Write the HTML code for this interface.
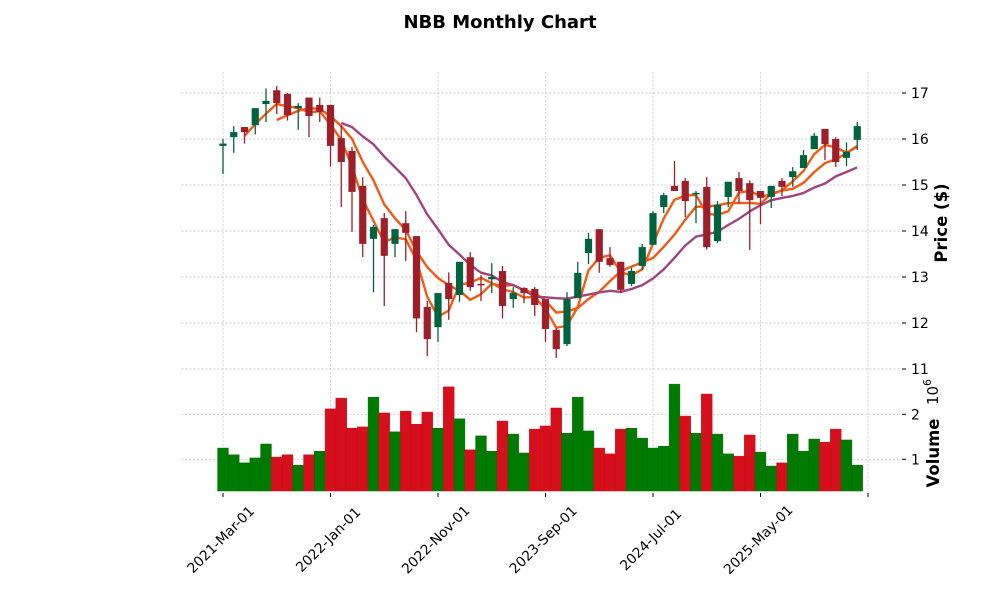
<!DOCTYPE html>
<html><head><meta charset="utf-8"><style>
body{margin:0;background:#fff;font-family:"Liberation Sans","DejaVu Sans",sans-serif;}
svg text{font-family:"DejaVu Sans","Liberation Sans",sans-serif;}
</style></head><body>
<svg id="chart" width="1000" height="600" viewBox="0 0 1000 600">
<text x="500" y="28" text-anchor="middle" font-size="18" font-weight="bold">NBB Monthly Chart</text>
<g id="grid"></g><g id="vol"></g><g id="ma"></g><g id="candles"></g><g id="axes"></g>
<text transform="translate(947,223) rotate(-90)" text-anchor="middle" font-size="16.5" font-weight="bold">Price ($)</text>
<text transform="translate(939,453) rotate(-90)" text-anchor="middle" font-size="16.5" font-weight="bold">Volume</text>
<text transform="translate(938,392) rotate(-90)" text-anchor="middle" font-size="15">10<tspan dy="-7" font-size="11">6</tspan></text>
</svg>
<script>
const opens=[15.85,16.04,16.26,16.3,16.76,17.06,16.98,16.67,16.9,16.74,16.74,16.02,15.74,14.98,13.83,14.28,13.72,14.17,13.89,12.35,11.91,12.87,12.61,13.43,12.85,12.95,13.13,12.52,12.76,12.74,12.52,11.85,11.54,12.54,13.52,14.04,13.41,13.33,12.85,13.24,13.7,14.52,14.98,15.09,14.8,14.96,13.78,14.74,15.15,15.04,14.87,14.74,15.09,15.17,15.37,15.78,16.22,16.0,15.59,15.98];
const highs=[16.0,16.28,16.26,16.67,17.1,17.15,17.0,16.78,16.9,16.9,16.74,16.3,15.83,15.17,14.13,14.39,14.04,14.43,13.89,12.48,12.65,13.1,13.33,13.54,13.04,13.3,13.24,12.78,12.78,12.78,12.52,11.89,12.67,13.33,13.96,14.04,13.65,13.33,13.2,13.72,14.43,14.83,15.52,15.15,14.87,15.17,14.65,15.07,15.28,15.1,14.87,14.98,15.15,15.39,15.76,16.13,16.22,16.04,15.93,16.37];
const lows=[15.24,15.7,15.9,16.1,16.37,16.54,16.4,16.2,16.04,16.37,15.4,14.52,13.98,13.43,12.67,12.37,13.43,13.35,11.8,11.28,11.59,12.07,12.46,12.7,12.48,12.65,12.1,12.33,12.43,12.15,11.59,11.24,11.5,12.54,13.28,13.09,13.22,12.65,12.8,13.15,13.7,14.39,14.87,14.3,14.17,13.6,13.74,14.52,14.6,13.59,14.15,14.5,14.76,14.96,15.37,15.78,15.54,15.39,15.41,15.76];
const closes=[15.9,16.15,16.15,16.67,16.83,16.78,16.52,16.72,16.5,16.59,15.85,15.5,14.85,13.72,14.09,13.46,14.04,13.96,12.1,11.65,12.65,12.52,13.33,12.78,12.83,13.0,12.37,12.65,12.65,12.39,11.87,11.43,12.52,13.09,13.83,13.33,13.26,12.72,13.13,13.65,14.39,14.78,14.87,14.65,14.83,13.65,14.57,15.07,14.87,14.67,14.72,14.98,14.96,15.3,15.65,16.07,15.89,15.5,15.72,16.28];
const volumes=[1.25,1.10,0.92,1.03,1.34,1.05,1.10,0.87,1.10,1.18,2.12,2.36,1.69,1.72,2.38,2.03,1.61,2.07,1.78,2.05,1.69,2.61,1.90,1.21,1.52,1.18,1.85,1.56,1.14,1.67,1.74,2.14,1.58,2.38,1.63,1.25,1.12,1.67,1.69,1.47,1.25,1.29,2.67,1.96,1.58,2.45,1.56,1.12,1.07,1.54,1.16,0.85,0.92,1.56,1.18,1.45,1.38,1.67,1.43,0.87];
const priceTicks=[11,12,13,14,15,16,17];
const volTicks=[1,2];
const xTickIdx=[0,10,20,30,40,50];
const xTickLabels=["2021-Mar-01","2022-Jan-01","2022-Nov-01","2023-Sep-01","2024-Jul-01","2025-May-01"];
const maPeriods=[3,6,12];
const maColors=["#f25c15","#f05a14","#a0457a"];

const NS="http://www.w3.org/2000/svg";
const X=i=>223+i*10.75;
const Y=p=>93+(17-p)*46;
const VY=v=>459.3-(v-1)*45;
const VBASE=491, L=181, R=900;
function mk(tag,attrs,parent){const e=document.createElementNS(NS,tag);for(const k in attrs)e.setAttribute(k,attrs[k]);document.getElementById(parent).appendChild(e);return e;}
const GS={stroke:'#c4c4c4','stroke-width':0.7,'stroke-dasharray':'2.5,1.5'};

priceTicks.forEach(p=>{
  const g=mk('line',Object.assign({x1:L,x2:R,y1:Y(p),y2:Y(p)},GS),'grid');
  
  
  mk('line',{x1:902,x2:906,y1:Y(p),y2:Y(p),stroke:'#000','stroke-width':1},'axes');
  const t=mk('text',{x:911,y:Y(p)+5,'font-size':14},'axes');t.textContent=p;
  
  
});
volTicks.forEach(v=>{
  const g=mk('line',Object.assign({x1:L,x2:R,y1:VY(v),y2:VY(v)},GS),'grid');
  
  
  mk('line',{x1:902,x2:906,y1:VY(v),y2:VY(v),stroke:'#000','stroke-width':1},'axes');
  const t=mk('text',{x:911,y:VY(v)+5,'font-size':14},'axes');t.textContent=v;
  
  
});
xTickIdx.concat([60]).forEach(i=>{
  const g=mk('line',Object.assign({x1:X(i),x2:X(i),y1:72,y2:491},GS),'grid');
  
  
  mk('line',{x1:X(i),x2:X(i),y1:493,y2:497,stroke:'#000','stroke-width':1},'axes');
});
xTickIdx.forEach((i,k)=>{
  const t=mk('text',{transform:`translate(${X(i)+1},${543}) rotate(-45)`,'text-anchor':'middle','font-size':13.8},'axes');
  t.textContent=xTickLabels[k];
  
  
});

volumes.forEach((v,i)=>{
  const up=i===0?closes[0]>=opens[0]:closes[i]>=closes[i-1];
  const b=mk('rect',{x:X(i)-5.4,y:VY(v),width:10.8,height:VBASE-VY(v),fill:up?'#007a00':'#d60f1c',stroke:up?'#006f00':'#c70e1a','stroke-width':0.5},'vol');
  
  
});

maPeriods.forEach((n,k)=>{
  const pts=[];
  for(let i=n-1;i<closes.length;i++){let s=0;for(let j=i-n+1;j<=i;j++)s+=closes[j];pts.push(X(i)+','+Y(s/n));}
  const l=mk('polyline',{points:pts.join(' '),fill:'none',stroke:maColors[k],'stroke-width':2.4,'stroke-linejoin':'round'},'ma');
  
  
});

closes.forEach((c,i)=>{
  const o=opens[i],up=c>=o,col=up?'#006340':'#9e1f2a';
  const w=mk('line',{x1:X(i),x2:X(i),y1:Y(highs[i]),y2:Y(lows[i]),stroke:col,'stroke-width':1.3},'candles');
  
  
  const top=Y(Math.max(o,c)),h=Math.max(1.5,Math.abs(Y(o)-Y(c)));
  const b=mk('rect',{x:X(i)-3.6,y:top,width:7.2,height:h,fill:col},'candles');
  
  
});
</script>
</body></html>
